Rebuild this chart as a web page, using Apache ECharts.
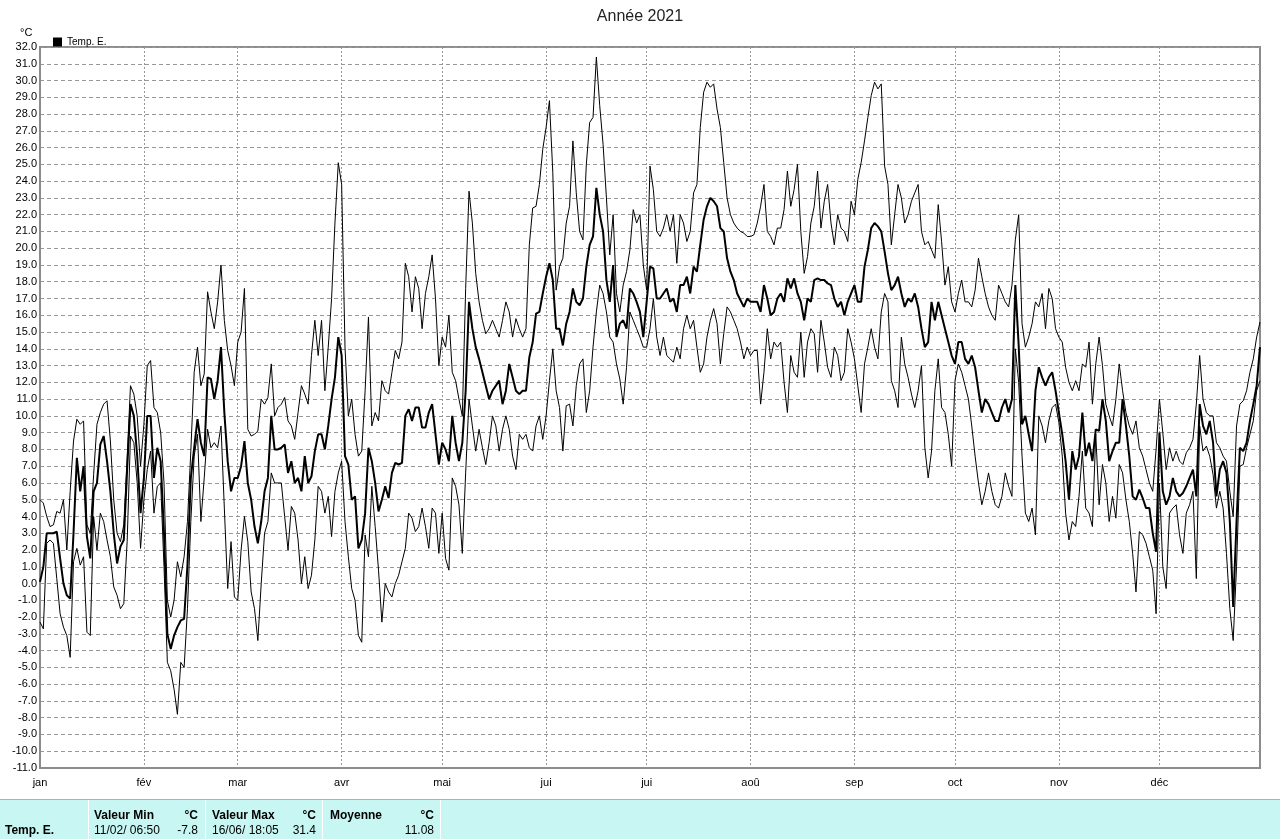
<!DOCTYPE html>
<html><head><meta charset="utf-8">
<script src="https://cdn.jsdelivr.net/npm/echarts@6/dist/echarts.min.js"></script>
<style>html,body{margin:0;padding:0;background:#fff}#c{width:1280px;height:839px}</style>
</head><body><div id="c"></div>
<script>
// ---- data ----
const monthLabels = ['jan','fév','mar','avr','mai','jui','jui','aoû','sep','oct','nov','déc'];
const monthStarts = [0,31,59,90,120,151,181,212,243,273,304,334];
const yMin = -11, yMax = 32, yStep = 1;

const tMax = [
5.0,4.8,4.0,3.4,3.5,4.3,4.2,5.0,2.0,5.5,
8.5,9.8,9.5,9.7,3.5,3.0,6.5,9.5,10.2,10.7,
10.9,8.5,5.0,3.0,2.5,3.5,7.5,11.8,11.3,10.0,
7.0,9.5,13.0,13.3,10.5,10.2,9.0,6.0,-1.0,-2.0,
-1.0,1.3,0.4,1.6,3.7,7.9,12.6,14.1,11.8,12.5,
17.4,16.2,15.2,16.8,19.0,15.7,13.9,13.0,11.8,14.4,
15.0,17.6,9.2,8.8,8.9,9.1,11.0,10.7,11.1,13.1,
10.0,10.5,10.7,11.1,9.7,9.4,8.6,10.2,11.8,11.3,
10.7,13.6,15.7,13.6,15.7,11.5,14.1,17.0,21.5,25.1,
23.8,14.1,10.0,11.0,8.9,7.6,7.9,11.5,15.9,9.4,
10.2,9.7,12.1,11.5,11.3,12.6,13.9,13.4,14.4,19.1,
18.3,16.2,18.3,17.6,15.2,17.3,18.3,19.6,17.0,13.0,
14.7,14.1,16.0,12.6,12.1,11.0,10.0,17.6,23.4,21.5,
18.5,16.8,15.7,14.9,15.2,15.7,15.2,14.7,15.7,16.8,
16.2,14.7,15.8,15.2,14.7,15.2,20.2,22.4,22.5,23.8,
25.9,27.2,28.8,24.5,17.5,18.9,19.4,21.5,22.5,26.4,
23.3,21.0,20.5,25.0,27.5,27.8,31.4,28.5,26.2,23.0,
19.6,22.0,17.3,16.2,17.8,18.6,19.9,22.3,21.5,22.0,
19.0,17.5,24.9,23.5,21.0,20.7,21.2,22.0,21.0,22.0,
19.1,22.0,21.5,20.4,21.0,23.3,23.8,27.2,29.3,29.9,
29.6,29.8,28.3,27.2,25.1,23.0,22.0,21.5,21.2,21.0,
20.9,20.7,20.7,20.8,21.5,22.5,23.8,21.0,20.7,20.2,
21.2,21.2,22.3,24.6,22.5,23.5,25.0,21.0,18.5,19.5,
21.5,22.5,24.6,21.2,22.8,23.8,21.5,20.2,22.0,21.2,
21.0,20.4,22.8,22.0,24.1,25.1,26.4,27.8,29.1,29.9,
29.5,29.8,24.9,23.8,20.2,22.0,23.8,23.0,21.5,22.0,
22.8,23.3,23.8,21.0,20.2,20.4,19.9,19.4,22.6,20.4,
17.8,18.9,16.8,16.2,17.3,18.1,16.8,16.8,16.5,17.5,
19.4,18.3,17.3,16.5,16.0,15.7,17.8,17.3,16.8,16.5,
17.8,20.5,22.0,15.5,14.1,14.7,15.5,16.8,16.5,17.3,
15.2,17.6,17.0,15.2,14.7,14.4,12.9,12.0,11.5,12.1,
11.5,13.1,12.9,14.4,10.7,13.1,14.7,13.0,10.7,10.0,
9.4,11.0,13.1,11.5,10.2,9.4,8.9,9.7,8.1,7.6,
6.8,6.0,5.5,8.0,11.0,9.0,6.8,8.1,7.3,7.9,
7.3,7.1,7.8,8.1,8.6,10.7,13.6,11.0,10.2,10.0,
10.0,8.4,8.1,7.6,7.3,5.5,4.0,9.4,10.7,10.9,
11.5,12.6,13.4,14.7,15.6
];

const tMean = [
0.1,1.0,3.0,3.0,3.0,3.1,1.5,0.0,-0.7,-0.9,
3.0,7.5,5.5,7.0,2.8,1.5,5.5,6.0,8.3,8.8,
7.3,5.5,3.0,1.2,2.2,2.6,6.8,10.7,10.0,7.6,
4.2,6.3,10.0,10.0,6.3,8.1,7.3,3.0,-3.0,-3.9,
-3.1,-2.6,-2.2,-2.1,1.1,6.3,8.1,9.8,8.4,7.6,
12.3,12.2,11.0,12.1,14.1,10.2,7.3,5.5,6.3,6.3,
7.0,8.5,6.0,5.0,3.4,2.4,3.7,5.5,6.3,10.0,
8.0,8.0,8.1,8.3,6.6,7.3,6.0,6.3,5.5,7.6,
6.0,6.4,7.9,8.9,8.9,8.0,9.4,11.0,12.3,14.7,
13.6,7.6,7.1,5.0,5.2,2.1,2.6,4.2,8.1,7.3,
6.0,4.3,5.0,5.8,5.1,6.6,7.2,7.1,7.2,10.0,
10.4,9.7,10.5,10.5,9.3,9.3,10.2,10.7,8.9,7.1,
8.4,8.0,7.3,10.0,8.4,7.3,8.4,11.5,16.8,15.2,
14.1,13.4,12.6,11.8,11.0,11.5,11.8,12.1,10.7,11.5,
13.1,12.3,11.5,11.3,11.5,11.5,13.5,14.4,16.1,16.2,
17.3,18.3,19.1,18.1,15.2,15.2,14.2,15.5,16.2,17.6,
16.8,16.6,17.0,18.9,20.2,20.7,23.6,22.0,21.0,18.1,
16.8,19.0,14.7,15.5,15.7,15.2,17.6,17.3,16.8,16.2,
14.7,16.8,18.9,18.8,17.0,17.0,17.3,17.6,16.8,17.0,
16.2,17.8,17.8,18.3,17.3,18.9,18.6,20.2,21.7,22.5,
23.0,22.8,22.5,21.2,21.0,19.4,18.6,18.1,17.3,16.9,
16.5,17.0,16.8,16.8,16.8,16.2,17.8,17.0,16.0,16.2,
17.0,17.3,16.8,18.2,17.6,18.2,17.3,16.8,15.7,17.0,
16.8,18.1,18.2,18.1,18.1,17.9,17.8,17.0,16.5,16.8,
16.0,16.8,17.3,17.8,16.8,16.8,18.9,19.9,21.2,21.5,
21.3,21.0,19.8,18.5,17.5,17.8,18.3,17.3,16.5,17.0,
16.8,17.3,16.5,15.2,14.1,14.4,16.8,15.7,16.8,16.0,
15.2,14.4,13.6,13.1,14.4,14.4,13.4,13.1,13.6,12.9,
11.5,10.2,11.0,10.7,10.2,9.7,9.7,10.5,11.0,10.2,
11.0,17.8,14.2,9.5,10.0,8.9,7.9,11.5,12.9,12.3,
11.8,12.3,12.6,11.5,10.2,8.9,7.3,5.0,7.9,6.8,
7.6,10.2,7.6,8.4,7.3,9.2,9.1,11.0,9.7,7.3,
7.9,8.4,8.4,11.0,9.4,7.6,5.2,5.0,5.6,5.1,
4.5,4.5,3.0,1.9,9.0,5.5,4.7,5.2,6.3,5.5,
5.2,5.4,5.8,6.3,6.8,5.2,10.7,9.4,8.9,9.7,
8.4,5.2,6.8,7.3,6.6,3.7,-1.4,3.7,8.1,7.9,
8.4,9.7,10.7,11.8,14.1
];

const tMin = [
-2.3,-2.7,2.4,2.6,2.4,0.3,-1.8,-2.6,-3.1,-4.4,
1.3,2.1,1.1,1.6,-2.9,-3.1,4.0,2.0,4.2,3.7,
2.6,1.6,-0.2,-0.7,-1.5,-1.2,2.5,8.8,8.4,6.0,
2.1,5.0,6.8,7.9,4.2,5.8,6.0,1.0,-4.7,-5.2,
-6.3,-7.8,-4.7,-5.0,-1.5,3.7,7.6,8.9,3.7,6.3,
9.2,8.1,8.4,8.1,9.4,4.5,-0.3,2.5,-0.8,-1.0,
2.0,4.0,2.5,-0.5,-1.5,-3.4,0.0,3.0,3.7,6.6,
6.0,6.0,6.0,4.0,2.0,4.6,4.2,2.6,0.0,1.6,
-0.3,0.5,2.6,5.8,5.5,4.2,5.2,2.8,5.5,6.6,
7.3,3.7,1.6,-0.3,-1.0,-3.1,-3.5,2.9,1.6,5.8,
3.4,0.8,-2.3,0.0,-0.5,-0.8,0.0,0.5,1.3,2.1,
4.2,3.9,3.1,3.4,4.5,3.4,2.1,4.5,4.2,1.8,
4.2,1.5,0.8,6.3,5.8,4.7,1.8,6.6,11.0,9.4,
7.9,9.2,8.1,7.1,8.4,10.0,9.4,7.9,9.2,10.0,
9.2,7.6,6.8,8.9,8.6,8.9,8.1,7.9,9.4,10.0,
8.6,10.0,12.1,14.0,11.5,10.5,7.9,10.6,10.7,9.4,
11.8,13.1,13.4,10.2,11.5,14.1,16.2,17.8,17.3,16.2,
14.7,14.4,13.1,12.2,10.7,12.9,16.2,15.7,15.2,14.7,
14.1,14.1,15.2,17.0,14.7,13.6,14.7,13.6,13.4,13.2,
14.1,13.4,15.2,16.0,15.2,15.7,14.1,12.6,13.1,14.7,
15.7,16.4,15.5,13.1,14.9,16.5,16.2,15.7,15.2,14.4,
13.4,14.1,13.6,13.9,13.9,10.7,12.6,15.2,13.4,14.4,
14.1,14.4,12.0,10.2,13.6,12.6,12.3,15.0,12.3,14.4,
15.2,14.9,12.6,15.7,14.4,12.9,12.3,14.1,13.6,12.1,
12.6,15.2,14.4,13.4,11.8,10.2,13.1,14.1,15.2,14.1,
13.4,16.2,17.3,16.8,12.1,11.5,10.5,14.7,13.1,12.3,
11.3,10.5,11.5,13.0,8.1,6.3,7.9,11.5,13.4,10.5,
10.2,8.9,7.0,12.1,13.1,12.6,11.8,11.0,9.4,7.6,
6.0,4.7,5.5,6.6,5.5,4.7,4.5,5.2,6.6,5.8,
5.2,14.0,12.0,7.6,4.2,3.7,4.5,2.9,10.0,9.4,
8.4,9.7,10.5,10.7,9.6,7.6,4.2,2.6,3.7,3.4,
5.2,7.9,4.5,4.2,3.4,8.9,4.7,7.1,6.0,3.7,
5.2,3.9,7.1,6.6,5.0,3.7,1.8,-0.5,3.1,2.9,
2.4,1.6,0.8,-1.8,6.0,1.0,-0.3,4.2,4.5,4.7,
2.9,1.8,4.2,4.7,5.5,0.3,9.4,7.9,8.2,7.6,
6.5,4.5,5.5,4.5,1.8,-1.5,-3.4,1.0,7.0,7.1,
8.1,8.9,9.7,11.5,12.1
];

const seriesName = 'Temp. E.';
const statHeaders = ['Valeur Min','Valeur Max','Moyenne'];
const statUnit = '°C';
const statDates = ['11/02/ 06:50','16/06/ 18:05',''];
const statValues = ['-7.8','31.4','11.08'];

// ---- chart ----
const FONT = '"Liberation Sans", Arial, sans-serif';
const chart = echarts.init(document.getElementById('c'), null, {renderer:'canvas'});
const toXY = arr => arr.map((v,i)=>[i,v]);
const lastDay = tMean.length - 1;

const colX = [94, 212, 330];
const colR = [198, 316, 434];
const graphics = [
  {type:'rect', shape:{x:0,y:800,width:1280,height:39}, style:{fill:'#c8f7f3'}, silent:true},
  {type:'line', shape:{x1:0,y1:799.5,x2:1280,y2:799.5}, style:{stroke:'#b0b0b0',lineWidth:1}, silent:true},
  {type:'text', style:{text:'°C', x:20, y:33, font:'11px '+FONT, fill:'#000', textVerticalAlign:'middle'}},
  {type:'text', style:{text:seriesName, x:5, y:831, font:'bold 12px '+FONT, fill:'#000', textVerticalAlign:'middle'}}
];
[88,205,322,440].forEach(x=>{
  graphics.push({type:'line', shape:{x1:x+0.5,y1:800,x2:x+0.5,y2:839}, style:{stroke:'#ffffff',lineWidth:1}, silent:true});
});
statHeaders.forEach((h,i)=>{
  graphics.push({type:'text', style:{text:h, x:colX[i], y:816, font:'bold 12px '+FONT, fill:'#000', textVerticalAlign:'middle'}});
  graphics.push({type:'text', style:{text:statUnit, x:colR[i], y:816, font:'bold 12px '+FONT, fill:'#000', textAlign:'right', textVerticalAlign:'middle'}});
  if (statDates[i]) graphics.push({type:'text', style:{text:statDates[i], x:colX[i], y:831, font:'12px '+FONT, fill:'#000', textVerticalAlign:'middle'}});
  graphics.push({type:'text', style:{text:statValues[i], x:colR[i], y:831, font:'12px '+FONT, fill:'#000', textAlign:'right', textVerticalAlign:'middle'}});
});

chart.setOption({
  animation:false,
  backgroundColor:'#fff',
  title:{text:'Année 2021', left:'center', top:4, textStyle:{fontSize:16, fontWeight:'normal', color:'#222', fontFamily:FONT}},
  legend:{data:[seriesName], left:48, top:32, itemWidth:9, itemHeight:9, icon:'rect', itemGap:4,
          textStyle:{fontSize:10, color:'#000', fontFamily:FONT}},
  grid:{left:40, right:20, top:47, bottom:71, show:true, borderColor:'#8c8c8c', borderWidth:2, containLabel:false},
  xAxis:{type:'value', min:0, max:lastDay,
    axisLine:{show:true, onZero:false, lineStyle:{color:'#8c8c8c', width:1}},
    axisTick:{show:false, customValues:monthStarts},
    axisLabel:{customValues:monthStarts, formatter:v=>monthLabels[monthStarts.indexOf(v)], color:'#000', fontSize:11, fontFamily:FONT, margin:9},
    splitLine:{show:true, lineStyle:{type:[2,2], color:'#999', width:1}}
  },
  yAxis:{type:'value', min:yMin, max:yMax, interval:yStep,
    axisLine:{show:true, lineStyle:{color:'#8c8c8c', width:1}},
    axisTick:{show:false},
    axisLabel:{formatter:v=>v.toFixed(1), color:'#000', fontSize:11, fontFamily:FONT, margin:3},
    splitLine:{show:true, lineStyle:{type:[4,3], color:'#999', width:1}}
  },
  series:[
    {name:'Max', type:'line', data:toXY(tMax), symbol:'none', lineStyle:{color:'#000', width:1}, itemStyle:{color:'#000'}, z:2},
    {name:'Min', type:'line', data:toXY(tMin), symbol:'none', lineStyle:{color:'#000', width:1}, itemStyle:{color:'#000'}, z:2},
    {name:seriesName, type:'line', data:toXY(tMean), symbol:'none', lineStyle:{color:'#000', width:2}, itemStyle:{color:'#000'}, z:3}
  ],
  graphic:graphics
});
</script>
</body></html>
